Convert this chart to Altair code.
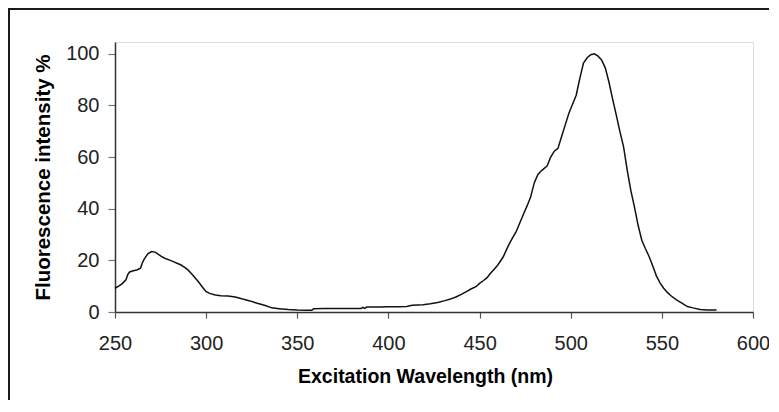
import altair as alt
import pandas as pd

wavelength = [250, 252, 254, 256, 257, 258, 260, 262, 264, 265, 266, 268, 270, 272, 274, 276, 278, 280,
              282, 284, 286, 288, 290, 292, 294, 296, 298, 300, 302, 305, 308, 312, 316, 320, 324, 328,
              332, 336, 340, 345, 350, 355, 358, 359, 365, 370, 375, 380, 385, 386, 387, 388, 395, 400,
              405, 410, 413, 419, 423, 427, 431, 434, 437, 440, 443, 445, 448, 450, 452, 454, 456, 458,
              460, 463, 466, 468, 470, 472, 474, 476, 478, 480, 482, 484, 487, 489, 491, 493, 495, 497,
              499, 501, 503, 505, 507, 509, 511, 513, 515, 517, 519, 521, 523, 525, 527, 529, 531, 533,
              535, 537, 539, 541, 543, 545, 547, 549, 551, 553, 555, 558, 561, 564, 567, 571, 575, 580]
intensity = [9.2, 10.0, 11.0, 12.5, 14.5, 15.5, 16.0, 16.3, 17.0, 19.0, 20.5, 22.5, 23.4, 23.2, 22.2, 21.3,
             20.6, 20.1, 19.5, 18.9, 18.3, 17.4, 16.3, 14.8, 13.2, 11.5, 9.6, 7.9, 7.2, 6.6, 6.3, 6.2, 5.8,
             5.0, 4.3, 3.4, 2.6, 1.6, 1.3, 1.0, 0.8, 0.7, 0.7, 1.3, 1.4, 1.4, 1.4, 1.4, 1.4, 1.8, 1.4, 1.9,
             1.9, 2.0, 2.0, 2.1, 2.6, 2.8, 3.2, 3.7, 4.4, 5.0, 5.8, 6.8, 8.0, 8.8, 9.8, 11.1, 12.1, 13.2,
             15.0, 16.6, 18.2, 21.4, 26.0, 28.6, 31.0, 34.4, 37.8, 41.0, 44.5, 50.0, 53.3, 54.8, 56.5, 60.0,
             62.3, 63.4, 68.0, 72.5, 77.0, 80.5, 84.0, 90.5, 96.4, 98.5, 99.7, 100.0, 99.1, 97.6, 94.5, 89.0,
             82.5, 76.3, 69.9, 64.0, 55.0, 47.0, 40.5, 33.5, 27.8, 24.5, 21.5, 17.8, 14.0, 11.3, 9.2, 7.6,
             6.3, 4.7, 3.4, 2.1, 1.6, 1.0, 0.8, 0.8]

x_ticks = [250, 300, 350, 400, 450, 500, 550, 600]
y_ticks = [0, 20, 40, 60, 80, 100]

df = pd.DataFrame({"wavelength": wavelength, "intensity": intensity})

W, H = 638, 270
PL, PT, PR, PB = 107, 34, 16, 88
FONT = "Liberation Sans"

line = alt.Chart(df).mark_line(color="#111111", strokeWidth=1.5, interpolate="linear").encode(
    x=alt.X("wavelength:Q",
            scale=alt.Scale(domain=[250, 600], nice=False, zero=False),
            axis=alt.Axis(values=x_ticks, title="Excitation Wavelength (nm)", grid=False,
                          domainColor="#333333", domainWidth=1.5, tickColor="#555555",
                          tickSize=6, tickWidth=1.2, labelFontSize=20, labelFont=FONT,
                          labelColor="#222222", labelPadding=15, labelFlush=False,
                          titleFont=FONT, titleFontSize=19.5, titleFontWeight="bold",
                          titleColor="#000000", titleX=310, titleY=70,
                          titleBaseline="alphabetic", titleAlign="center")),
    y=alt.Y("intensity:Q",
            scale=alt.Scale(domain=[0, 104.6], nice=False),
            axis=alt.Axis(values=y_ticks, title="Fluorescence intensity %", grid=False,
                          domainColor="#333333", domainWidth=1.5, tickColor="#777777",
                          tickSize=7, tickWidth=1.2, labelFontSize=20, labelFont=FONT,
                          labelColor="#222222", labelPadding=9, labelFlush=False,
                          titleFont=FONT, titleFontSize=20.5, titleFontWeight="bold",
                          titleColor="#000000", titleX=-72, titleY=H / 2,
                          titleAngle=270, titleBaseline="middle", titleAlign="center")),
)

one = alt.Data(values=[{"k": 1}])
top_border = alt.Chart(one).mark_rule(color="#1a1a1a", strokeWidth=2).encode(
    x=alt.value(-PL), x2=alt.value(W + PR), y=alt.value(-PT + 1))
left_border = alt.Chart(one).mark_rule(color="#1a1a1a", strokeWidth=2).encode(
    x=alt.value(-PL + 1), y=alt.value(-PT), y2=alt.value(H + PB))

chart = alt.layer(line, top_border, left_border).properties(
    width=W, height=H,
    autosize=alt.AutoSizeParams(type="none"),
    padding={"left": PL, "top": PT, "right": PR, "bottom": PB},
).configure_view(stroke="#9a9a9a", strokeWidth=2).configure(background="white")

chart.save("out.html", embed_options={"renderer": "svg", "actions": False})
